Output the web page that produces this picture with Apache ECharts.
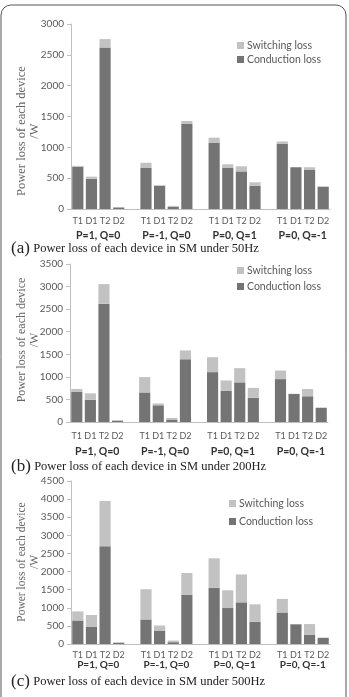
<!DOCTYPE html>
<html lang="en">
<head>
    <meta charset="UTF-8">
    <title>Power loss</title>
    <style>
        * { margin: 0; }
        html, body, #chart { width: 100%; height: 100%; background: #fff; }
    </style>
</head>
<body>
    <div id="chart"></div>
    <script src="https://cdn.jsdelivr.net/npm/echarts@6/dist/echarts.min.js"></script>
    <script>
        var devices = ['T1', 'D1', 'T2', 'D2'];
        var groups = ['P=1, Q=0', 'P=-1, Q=0', 'P=0, Q=1', 'P=0, Q=-1'];
        var yMax = [3000, 3500, 4500];
        var captions = ['(a)', '(b)', '(c)'];
        var captionText = ['Power loss of each device in SM under 50Hz',
            'Power loss of each device in SM under 200Hz',
            'Power loss of each device in SM under 500Hz'];

        // 16 values each: T1 D1 T2 D2 for every group
        var cond50 = [685, 490, 2620, 25, 665, 378, 35, 1378, 1070, 665, 610, 378, 1055, 678, 632, 362];
        var sw50 = [15, 35, 135, 3, 85, 5, 15, 50, 87, 60, 82, 55, 40, 3, 45, 3];
        var cond200 = [665, 490, 2620, 30, 655, 370, 55, 1390, 1105, 695, 878, 535, 950, 620, 570, 315];
        var sw200 = [67, 145, 435, 8, 340, 40, 35, 195, 330, 225, 315, 220, 190, 5, 160, 3];
        var cond500 = [650, 470, 2700, 30, 677, 371, 50, 1364, 1549, 993, 1150, 615, 870, 545, 260, 170];
        var sw500 = [250, 330, 1250, 20, 835, 140, 45, 595, 817, 490, 770, 480, 375, 5, 290, 5];

        var condAll = [cond50, cond200, cond500];
        var swAll = [sw50, sw200, sw500];

        // layout of each panel
        var grids = [
            { left: 71, top: 24, width: 259, height: 185 },
            { left: 70, top: 264, width: 258, height: 158 },
            { left: 71, top: 481, width: 259, height: 163 }
        ];
        var catMargin = [8, 10, 7];
        var groupMargin = [21, 24, 16];
        var nameY = [131, 340, 562];
        var captionY = [249, 467, 682];
        var legendPos = [{ left: 232, top: 35 }, { left: 232, top: 260 }, { left: 224, top: 493 }];
        var legendGap = [3, 5, 7];

        var cats = [];
        var groupCats = [];
        groups.forEach(function (g, gi) {
            devices.forEach(function (d, di) {
                cats.push(d);
                groupCats.push(di == 1 ? g : '');
            });
            if (gi < groups.length - 1) {
                cats.push('');
                groupCats.push('');
            }
        });

        function spread(arr) {
            var out = [];
            for (var i = 0; i < arr.length; i++) {
                out.push(arr[i]);
                if (i % 4 == 3 && i < arr.length - 1) out.push('-');
            }
            return out;
        }

        var sans = 'Lato';
        var serif = 'Liberation Serif';
        var option = {
            animation: false,
            grid: grids,
            xAxis: [],
            yAxis: [],
            legend: [],
            series: [],
            graphic: [{
                type: 'rect',
                shape: { x: 1, y: 5, width: 345, height: 740, r: 10 },
                style: { fill: 'none', stroke: '#555', lineWidth: 1 }
            }]
        };

        for (var k = 0; k < 3; k++) {
            var catW = grids[k].width / cats.length;
            option.xAxis.push({
                type: 'category', gridIndex: k, data: cats,
                axisLine: { lineStyle: { color: '#bfbfbf' } },
                axisTick: { length: 4, lineStyle: { color: '#bfbfbf' } },
                axisLabel: { interval: 0, margin: catMargin[k], fontFamily: sans, fontSize: 9, color: '#595959' }
            });
            option.xAxis.push({
                type: 'category', gridIndex: k, data: groupCats, position: 'bottom',
                axisLine: { show: false }, axisTick: { show: false },
                axisLabel: {
                    interval: 0, margin: groupMargin[k], padding: [0, 0, 0, catW],
                    fontFamily: sans, fontSize: k == 2 ? 10 : 10.5, fontWeight: 'bold', color: '#333'
                }
            });
            option.yAxis.push({
                type: 'value', gridIndex: k, min: 0, max: yMax[k], interval: 500,
                splitLine: { show: false },
                axisLine: { show: true, lineStyle: { color: '#bfbfbf' } },
                axisTick: { show: true, length: 4, lineStyle: { color: '#bfbfbf' } },
                axisLabel: {
                    margin: 7, fontFamily: sans, fontSize: 10, color: '#595959',
                    formatter: function (v) { return String(v); }
                }
            });
            option.legend.push({
                data: ['Switching loss', 'Conduction loss'],
                orient: 'vertical', left: legendPos[k].left, top: legendPos[k].top,
                itemWidth: 7, itemHeight: 7, itemGap: legendGap[k], icon: 'rect',
                textStyle: { fontFamily: sans, fontSize: 10.5, color: '#595959', padding: [0, 0, 0, -2] }
            });
            option.series.push({
                name: 'Conduction loss', type: 'bar', stack: 's' + k,
                xAxisIndex: k * 2, yAxisIndex: k,
                barCategoryGap: '18%',
                itemStyle: { color: '#747474' },
                data: spread(condAll[k])
            });
            option.series.push({
                name: 'Switching loss', type: 'bar', stack: 's' + k,
                xAxisIndex: k * 2, yAxisIndex: k,
                barCategoryGap: '18%',
                itemStyle: { color: '#c2c2c2' },
                data: spread(swAll[k])
            });
            option.graphic.push({
                type: 'text', x: 28.5, y: nameY[k], rotation: Math.PI / 2,
                style: {
                    text: 'Power loss of each device\n/W', align: 'center', verticalAlign: 'middle',
                    fontFamily: serif, fontSize: k == 0 ? 12.5 : (k == 1 ? 12 : 11.5), lineHeight: 13, fill: '#666'
                }
            });
            option.graphic.push({
                type: 'text', x: 11, y: captionY[k],
                style: {
                    text: '{big|' + captions[k] + '} {small|' + captionText[k] + '}',
                    verticalAlign: 'middle',
                    rich: {
                        big: { fontFamily: serif, fontSize: 17, fill: '#222' },
                        small: { fontFamily: serif, fontSize: 12.5, fill: '#222' }
                    }
                }
            });
        }

        var chart = echarts.init(document.getElementById('chart'));
        chart.setOption(option);
    </script>
</body>
</html>
